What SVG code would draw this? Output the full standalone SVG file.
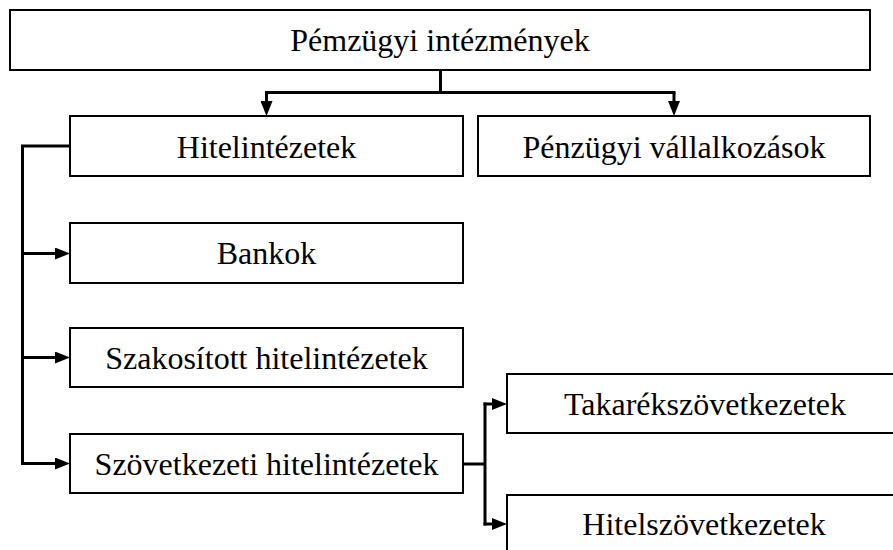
<svg xmlns="http://www.w3.org/2000/svg" width="893" height="550" viewBox="0 0 893 550">
<style>
.box{fill:#fff;stroke:#000;stroke-width:2}
.lbl{font-family:'Liberation Serif','Tinos','Times New Roman','DejaVu Serif',serif;font-size:32px;fill:#000;text-anchor:middle}
.con{fill:none;stroke:#000;stroke-width:3}
</style>
<defs>
<marker id="arr" markerWidth="15" markerHeight="12" refX="2" refY="6" orient="auto" markerUnits="userSpaceOnUse">
<path d="M0,0 L15,6 L0,12 z" fill="#000"/>
</marker>
</defs>
<rect width="893" height="550" fill="#fff"/>
<g id="n-penzugyi-intezmenyek"><rect class="box" x="10" y="10" width="860" height="60"/><text class="lbl" x="440" y="51" font-family="Liberation Serif, serif">Pémzügyi intézmények</text></g>
<g id="n-hitelintezetek"><rect class="box" x="70" y="116" width="393" height="60"/><text class="lbl" x="266.5" y="158">Hitelintézetek</text></g>
<g id="n-penzugyi-vallalkozasok"><rect class="box" x="478" y="116" width="392" height="60"/><text class="lbl" x="674" y="158">Pénzügyi vállalkozások</text></g>
<g id="n-bankok"><rect class="box" x="70" y="223" width="393" height="60"/><text class="lbl" x="266.5" y="264">Bankok</text></g>
<g id="n-szakositott"><rect class="box" x="70" y="328" width="393" height="59"/><text class="lbl" x="266.5" y="369">Szakosított hitelintézetek</text></g>
<g id="n-szovetkezeti"><rect class="box" x="70" y="434" width="393" height="59"/><text class="lbl" x="266.5" y="475">Szövetkezeti hitelintézetek</text></g>
<g id="n-takarekszovetkezetek"><rect class="box" x="507" y="374" width="400" height="59"/><text class="lbl" x="705" y="415">Takarékszövetkezetek</text></g>
<g id="n-hitelszovetkezetek"><rect class="box" x="507" y="495" width="400" height="70"/><text class="lbl" x="704" y="535">Hitelszövetkezetek</text></g>
<g id="connectors">
<path class="con" d="M440.5,70 V92.5 M265,92.5 H675.5"/>
<path class="con" d="M266.5,92.5 V103" marker-end="url(#arr)"/>
<path class="con" d="M674,92.5 V103" marker-end="url(#arr)"/>
<path class="con" d="M70,146 H22.5 V465"/>
<path class="con" d="M21,253.5 H57" marker-end="url(#arr)"/>
<path class="con" d="M21,357.5 H57" marker-end="url(#arr)"/>
<path class="con" d="M21,463.5 H57" marker-end="url(#arr)"/>
<path class="con" d="M463,464 H485 M485,402.5 V525.5"/>
<path class="con" d="M483.5,404 H494" marker-end="url(#arr)"/>
<path class="con" d="M483.5,524 H494" marker-end="url(#arr)"/>
</g>
</svg>
